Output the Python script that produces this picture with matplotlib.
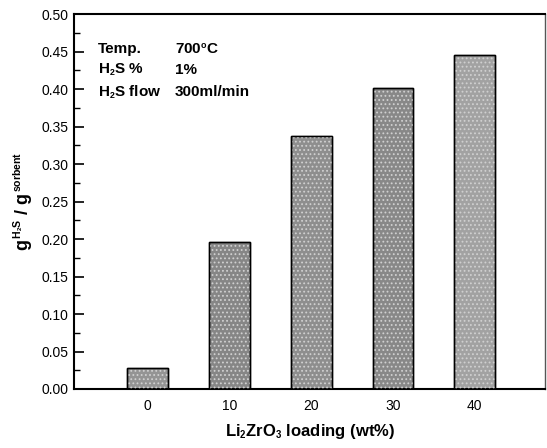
import matplotlib
matplotlib.use("Agg")
import matplotlib.pyplot as plt
import matplotlib._mathtext as _mt
from matplotlib.ticker import MultipleLocator

_mt.SHRINK_FACTOR = 0.58

plt.rcParams['font.family'] = ['Liberation Sans', 'DejaVu Sans']
plt.rcParams['mathtext.fontset'] = 'custom'
plt.rcParams['mathtext.rm'] = 'Liberation Sans:bold'
plt.rcParams['mathtext.bf'] = 'Liberation Sans:bold'
plt.rcParams['mathtext.it'] = 'Liberation Sans:bold'
plt.rcParams['mathtext.default'] = 'bf'
plt.rcParams['hatch.linewidth'] = 0.8

loading = [0, 10, 20, 30, 40]
uptake = [0.028, 0.196, 0.337, 0.401, 0.445]
bar_colors = ['#949494', '#868686', '#8e8e8e', '#888888', '#a2a2a2']
ytick_labels = ['0.00', '0.05', '0.10', '0.15', '0.20', '0.25', '0.30', '0.35', '0.40', '0.45', '0.50']

fig = plt.figure(figsize=(5.47, 4.48), dpi=100)
ax = fig.add_axes([0.1358, 0.1317, 0.8605, 0.8370])

ax.bar(loading, uptake, width=5, color=bar_colors, edgecolor='black', linewidth=1.0, zorder=2)
ax.bar(loading, uptake, width=5, color='none', edgecolor='#d0d0d0', hatch='....', linewidth=0, zorder=3)
ax.bar(loading, uptake, width=5, color='none', edgecolor='black', linewidth=1.0, zorder=4)

ax.set_xlim(-9, 48.6)
ax.set_ylim(0, 0.50)
ax.set_xticks(loading)
ax.set_xticklabels([str(v) for v in loading])
ax.set_yticks([i * 0.05 for i in range(len(ytick_labels))])
ax.set_yticklabels(ytick_labels)
ax.yaxis.set_minor_locator(MultipleLocator(0.025))

ax.tick_params(axis='y', which='major', direction='in', length=7, width=1.2, labelsize=10, pad=4)
ax.tick_params(axis='y', which='minor', direction='in', length=4, width=1.0)
ax.tick_params(axis='x', which='both', length=0, labelsize=10, pad=7)

for s in ['left', 'bottom', 'top']:
    ax.spines[s].set_linewidth(1.5)
ax.spines['right'].set_linewidth(1.0)
ax.spines['right'].set_color('#555555')

ax.set_xlabel(r'Li$_2$ZrO$_3$ loading (wt%)', fontsize=12, fontweight='bold', labelpad=7)
ax.set_ylabel(r'$g^{\,H_2S}$ / $g^{\,sorbent}$', fontsize=13, fontweight='bold', labelpad=5)

tkw = dict(transform=ax.transAxes, fontsize=11, fontweight='bold', va='baseline')
ax.text(0.050, 0.895, 'Temp.', **tkw)
ax.text(0.214, 0.895, r'700$^{o}$C', **tkw)
ax.text(0.050, 0.840, r'H$_2$S %', **tkw)
ax.text(0.214, 0.840, '1%', **tkw)
ax.text(0.050, 0.781, r'H$_2$S flow', **tkw)
ax.text(0.214, 0.781, '300ml/min', **tkw)

fig.savefig('out.png', dpi=100)
